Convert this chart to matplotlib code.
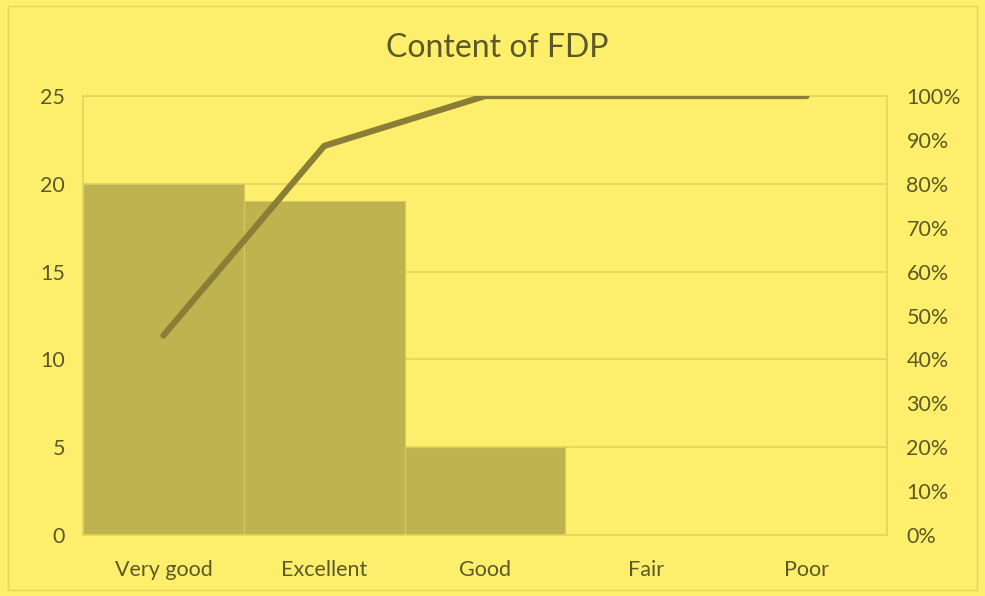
import numpy as np
import matplotlib.pyplot as plt
from matplotlib.patches import Rectangle
from matplotlib.ticker import PercentFormatter

plt.rcParams['font.family'] = ['Lato', 'DejaVu Sans']

categories = ['Very good', 'Excellent', 'Good', 'Fair', 'Poor']
counts = [20, 19, 5, 0, 0]
left_ticks = [0, 5, 10, 15, 20, 25]
right_ticks = [0, 10, 20, 30, 40, 50, 60, 70, 80, 90, 100]

bg = '#FDEF6B'
bar_col = '#BFB34F'
line_col = '#8A7E37'
text_col = '#5C5828'
grid_col = '#E2D45C'

cum_pct = np.cumsum(counts) / np.sum(counts) * 100

fig = plt.figure(figsize=(9.85, 5.96), dpi=100, facecolor=bg)
fig.patches.append(Rectangle((0.008, 0.01), 0.984, 0.98, transform=fig.transFigure,
                             fill=False, edgecolor=grid_col, lw=1))
ax = fig.add_axes([0.0843, 0.1023, 0.8162, 0.7366])
ax.set_facecolor(bg)

x = np.arange(len(categories))
ax.bar(x, counts, width=1.0, color=bar_col, edgecolor='#D6C95E', lw=0.8, zorder=2)
ax.set_xlim(-0.5, len(categories) - 0.5)
ax.set_ylim(0, 25)
ax.set_yticks(left_ticks)
ax.set_xticks(x)
ax.set_xticklabels(categories)
ax.yaxis.grid(True, color=grid_col, lw=1.2, zorder=0)
ax.set_axisbelow(True)

for s in ax.spines.values():
    s.set_color(grid_col)
    s.set_linewidth(1.2)
ax.tick_params(length=0, colors=text_col, labelsize=15.5)
ax.tick_params(axis='x', pad=18)
ax.tick_params(axis='y', pad=13)

ax2 = ax.twinx()
ax2.plot(x, cum_pct, color=line_col, lw=4.5, solid_capstyle='round', zorder=3)
ax2.set_ylim(0, 100)
ax2.set_yticks(right_ticks)
ax2.yaxis.set_major_formatter(PercentFormatter(decimals=0))
ax2.tick_params(length=0, colors=text_col, labelsize=15.5, pad=14)
for s in ax2.spines.values():
    s.set_visible(False)

fig.text(0.505, 0.92, 'Content of FDP', ha='center', va='center',
         fontsize=23, color=text_col)

fig.savefig('out.png', dpi=100, facecolor=bg)
